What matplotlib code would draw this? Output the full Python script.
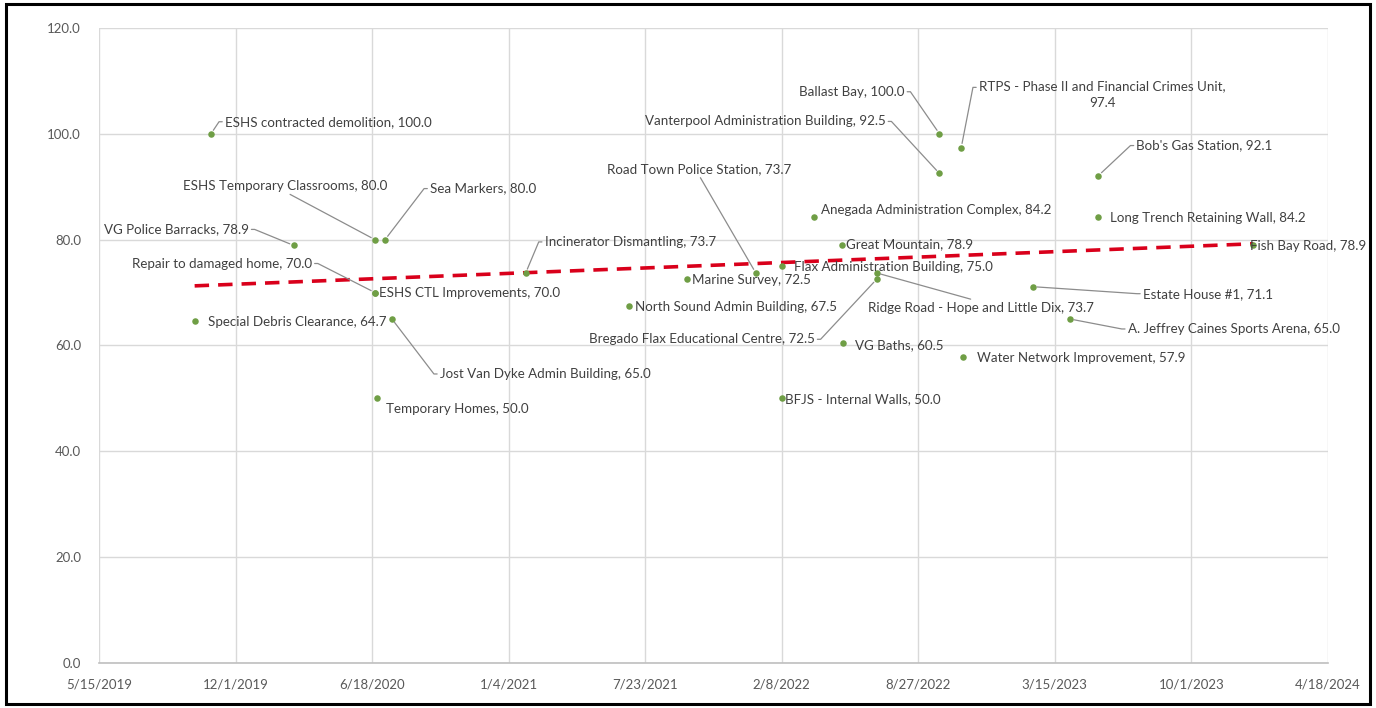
import numpy as np
import pandas as pd
import matplotlib
matplotlib.use("Agg")
import matplotlib.pyplot as plt
import matplotlib.dates as mdates
from matplotlib.patches import Rectangle

plt.rcParams["font.family"] = ["Lato", "DejaVu Sans"]

# data
projects = [
    "Special Debris Clearance", "ESHS contracted demolition", "VG Police Barracks",
    "ESHS Temporary Classrooms", "ESHS CTL Improvements", "Repair to damaged home",
    "Temporary Homes", "Sea Markers", "Jost Van Dyke Admin Building",
    "Incinerator Dismantling", "North Sound Admin Building", "Marine Survey",
    "Road Town Police Station", "BFJS - Internal Walls", "Flax Administration Building",
    "Anegada Administration Complex", "Great Mountain", "VG Baths",
    "Bregado Flax Educational Centre", "Ridge Road - Hope and Little Dix",
    "Ballast Bay", "Vanterpool Administration Building",
    "RTPS - Phase II and Financial Crimes Unit", "Water Network Improvement",
    "Estate House #1", "A. Jeffrey Caines Sports Arena", "Bob's Gas Station",
    "Long Trench Retaining Wall", "Fish Bay Road",
]
dates = [
    "2019-10-02", "2019-10-26", "2020-02-24",
    "2020-06-22", "2020-06-22", "2020-06-22",
    "2020-06-25", "2020-07-07", "2020-07-17",
    "2021-01-29", "2021-06-30", "2021-09-22",
    "2022-01-01", "2022-02-08", "2022-02-09",
    "2022-03-28", "2022-05-08", "2022-05-09",
    "2022-06-27", "2022-06-27",
    "2022-09-27", "2022-09-27",
    "2022-10-29", "2022-11-01",
    "2023-02-11", "2023-04-06", "2023-05-18",
    "2023-05-18", "2023-12-31",
]
scores = [
    64.7, 100.0, 78.9,
    80.0, 70.0, 70.0,
    50.0, 80.0, 65.0,
    73.7, 67.5, 72.5,
    73.7, 50.0, 75.0,
    84.2, 78.9, 60.5,
    72.5, 73.7,
    100.0, 92.5,
    97.4, 57.9,
    71.1, 65.0, 92.1,
    84.2, 78.9,
]
x_ticks = ["5/15/2019", "12/1/2019", "6/18/2020", "1/4/2021", "7/23/2021",
           "2/8/2022", "8/27/2022", "3/15/2023", "10/1/2023", "4/18/2024"]
y_ticks = [0, 20, 40, 60, 80, 100, 120]

# label layout: offset in pixels (dx, dy), alignment, leader attach point (None = no leader)
layout = {
    "Special Debris Clearance": ((13, -1), "left", None),
    "ESHS contracted demolition": ((14, 12), "left", (0, 0.5)),
    "VG Police Barracks": ((-45, 16), "right", (1, 0.5)),
    "ESHS Temporary Classrooms": ((-90, 54), "center", (0.5, 0)),
    "ESHS CTL Improvements": ((4, 0), "left", None),
    "Repair to damaged home": ((-63, 29), "right", (1, 0.5)),
    "Temporary Homes": ((9, -11), "left", None),
    "Sea Markers": ((45, 51), "left", (0, 0.5)),
    "Jost Van Dyke Admin Building": ((48, -55), "left", (0, 0.5)),
    "Incinerator Dismantling": ((19, 31), "left", (0, 0.5)),
    "North Sound Admin Building": ((6, -1), "left", None),
    "Marine Survey": ((5, -1), "left", None),
    "Road Town Police Station": ((-57, 104), "center", (0.5, 0)),
    "BFJS - Internal Walls": ((3, -1), "left", None),
    "Flax Administration Building": ((12, -1), "left", None),
    "Anegada Administration Complex": ((7, 7), "left", None),
    "Great Mountain": ((4, 1), "left", None),
    "VG Baths": ((12, -2), "left", None),
    "Bregado Flax Educational Centre": ((-62, -60), "right", (1, 0.5)),
    "Ridge Road - Hope and Little Dix": ((104, -35), "center", (0.5, 1)),
    "Ballast Bay": ((-35, 42), "right", (1, 0.5)),
    "Vanterpool Administration Building": ((-54, 52), "right", (1, 0.5)),
    "RTPS - Phase II and Financial Crimes Unit": ((141, 53), "center", (0, 0.75)),
    "Water Network Improvement": ((14, -1), "left", None),
    "Estate House #1": ((110, -7), "left", (0, 0.5)),
    "A. Jeffrey Caines Sports Arena": ((58, -10), "left", (0, 0.5)),
    "Bob's Gas Station": ((38, 30), "left", (0, 0.5)),
    "Long Trench Retaining Wall": ((12, -1), "left", None),
    "Fish Bay Road": ((-3, -1), "left", None),
}

dt = pd.to_datetime(dates)
xnum = mdates.date2num(dt)
tick_num = mdates.date2num(pd.to_datetime(x_ticks, format="%m/%d/%Y"))

fig = plt.figure(figsize=(13.76, 7.08), dpi=100)
fig.patches.append(Rectangle((0.004, 0.006), 0.992, 0.988, transform=fig.transFigure,
                             fill=False, edgecolor="black", linewidth=2.2))

ax = fig.add_axes([0.072, 0.0636, 0.893, 0.897])
ax.set_xlim(tick_num[0], tick_num[-1])
ax.set_ylim(0, 120)
ax.set_xticks(tick_num)
ax.set_xticklabels(x_ticks)
ax.set_yticks(y_ticks)
ax.set_yticklabels([f"{v:.1f}" for v in y_ticks])
ax.grid(True, color="#d9d9d9", linewidth=1.0)
ax.set_axisbelow(True)
for side in ["top", "right", "left"]:
    ax.spines[side].set_visible(False)
ax.spines["bottom"].set_color("#bfbfbf")
ax.spines["bottom"].set_linewidth(1.2)
ax.tick_params(length=0, labelsize=9.5, labelcolor="#595959")
ax.tick_params(axis="x", pad=11)
ax.tick_params(axis="y", pad=13)

# linear trendline over the data span
coef = np.polyfit(xnum, scores, 1)
xs = np.array([xnum.min(), xnum.max()])
ax.plot(xs, np.polyval(coef, xs), color="#d9001b", linestyle=(0, (4, 2.5)),
        linewidth=2.6, zorder=2)

ax.scatter(xnum, scores, s=22, color="#6f9e45", zorder=3, linewidths=0)

for name, x, y in zip(projects, xnum, scores):
    (dx, dy), ha, rel = layout[name]
    if name.startswith("RTPS"):
        txt = f"{name},\n{y:.1f}"
    else:
        txt = f"{name}, {y:.1f}"
    arrow = None
    if rel is not None:
        # excel-style leader: short horizontal stub at the label, then straight to the point
        if rel[1] == 0.5 or rel[0] == 0:
            ang = 180 if rel[0] == 0 else 0
            conn = f"arc,angleA={ang},armA=6,angleB=0,armB=0,rad=0"
        else:
            conn = "arc3,rad=0"
        arrow = dict(arrowstyle="-", color="#8c8c8c", lw=0.9, shrinkA=0, shrinkB=3,
                     relpos=rel, connectionstyle=conn)
    ax.annotate(txt, xy=(x, y), xytext=(dx, dy), textcoords="offset pixels",
                ha=ha, va="center", fontsize=9.6, color="#404040",
                multialignment="center", linespacing=1.45,
                arrowprops=arrow, annotation_clip=False, zorder=4)

fig.savefig("out.png", dpi=100)
